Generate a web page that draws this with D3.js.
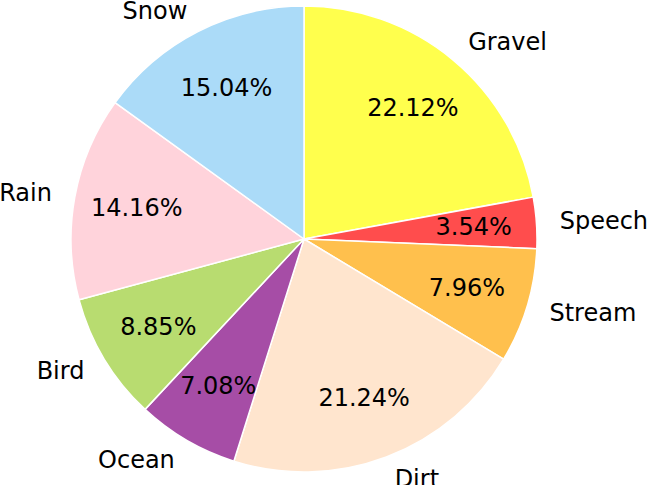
<!DOCTYPE html>
<html><head><meta charset="utf-8">
<script src="https://cdn.jsdelivr.net/npm/d3@7"></script>
<style>body{margin:0;background:#fff}svg{display:block}</style>
</head><body>
<svg id="chart" width="648" height="485"></svg>
<script>
const categories = ["Gravel","Speech","Stream","Dirt","Ocean","Bird","Rain","Snow"];
const values = [25,4,9,24,8,10,16,17];
const colors = ["#ffff4d","#ff4d4d","#ffc04d","#ffe5ce","#a64da6","#b8dc70","#ffd3db","#abdbf8"];

const W=648,H=485,cx=304,cy=239,R=233;
const svg=d3.select("#chart");
const g=svg.append("g").attr("transform",`translate(${cx},${cy})`);
const total=d3.sum(values);
const pie=d3.pie().sort(null).startAngle(0).endAngle(2*Math.PI);
const arcs=pie(values);
const arc=d3.arc().innerRadius(0).outerRadius(R);
g.selectAll("path").data(arcs).join("path")
 .attr("d",arc).attr("fill",(d,i)=>colors[i])
 .attr("stroke","#fff").attr("stroke-width",1.5).attr("stroke-linejoin","round");
const font="DejaVu Sans";
arcs.forEach((d,i)=>{
  const a=(d.startAngle+d.endAngle)/2;
  const sx=Math.sin(a), sy=-Math.cos(a);
  const lr=1.1*R, pr=0.73*R;
  g.append("text").attr("x",lr*sx).attr("y",lr*sy)
   .attr("text-anchor",sx>0?"start":"end").attr("dominant-baseline","central")
   .attr("font-family",font).attr("font-size",24).attr("fill","#000")
   .text(categories[i]);
  g.append("text").attr("x",pr*sx).attr("y",pr*sy)
   .attr("text-anchor","middle").attr("dominant-baseline","central")
   .attr("font-family",font).attr("font-size",24).attr("fill","#000")
   .text((values[i]/total*100).toFixed(2)+"%");
});
</script>
</body></html>
